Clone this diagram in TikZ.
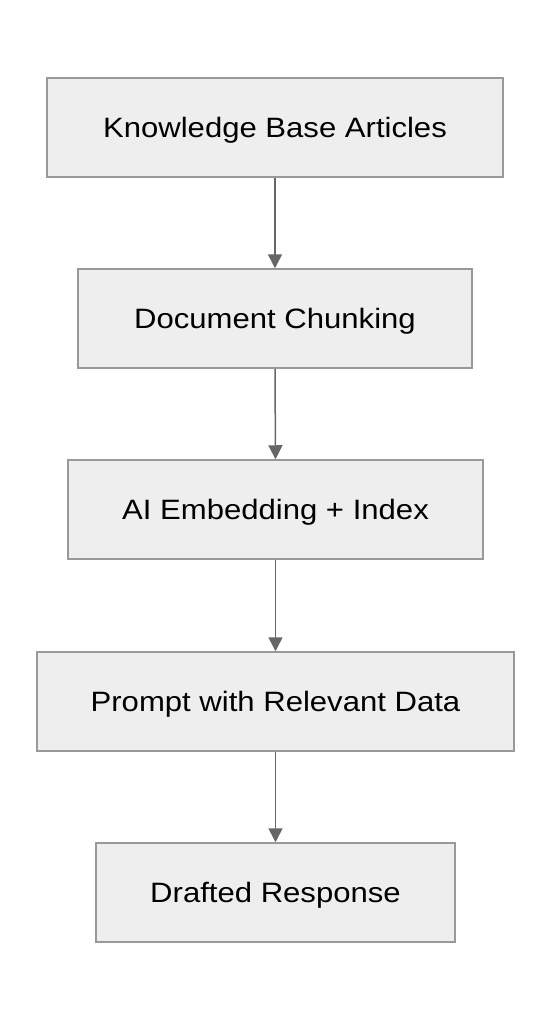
\documentclass[tikz,border=0pt]{standalone}
\usepackage{fontspec}
\setmainfont[FakeStretch=1.11]{Liberation Sans}
\usetikzlibrary{arrows.meta}
\definecolor{boxfill}{HTML}{EEEEEE}
\definecolor{boxline}{HTML}{999999}
\definecolor{arrowcol}{HTML}{666666}
\tikzset{
  stepbox/.style={draw=boxline, fill=boxfill, line width=1.5pt, minimum height=99pt, inner sep=0pt, text height=20pt, text depth=0pt, font=\fontsize{28}{32}\selectfont, text=black},
  flow/.style={draw=arrowcol, line width=1.5pt, -{Triangle[length=14pt,width=14pt]}}
}
\begin{document}
\begin{tikzpicture}[x=1pt,y=1pt]
\useasboundingbox (0,0) rectangle (550,-1020);
\node[stepbox, minimum width=456pt] (a) at (275,-127.5) {Knowledge Base Articles};
\node[stepbox, minimum width=394pt] (b) at (275,-318.5) {Document Chunking};
\node[stepbox, minimum width=415pt] (c) at (275.5,-509.5) {AI Embedding + Index};
\node[stepbox, minimum width=477pt] (d) at (275.5,-701.5) {Prompt with Relevant Data};
\node[stepbox, minimum width=359pt] (e) at (275.5,-892.5) {Drafted Response};
\draw[flow] (a.south) -- (b.north);
\draw[flow] (b.south) -- (c.north);
\draw[flow] (c.south) -- (d.north);
\draw[flow] (d.south) -- (e.north);
\end{tikzpicture}
\end{document}
